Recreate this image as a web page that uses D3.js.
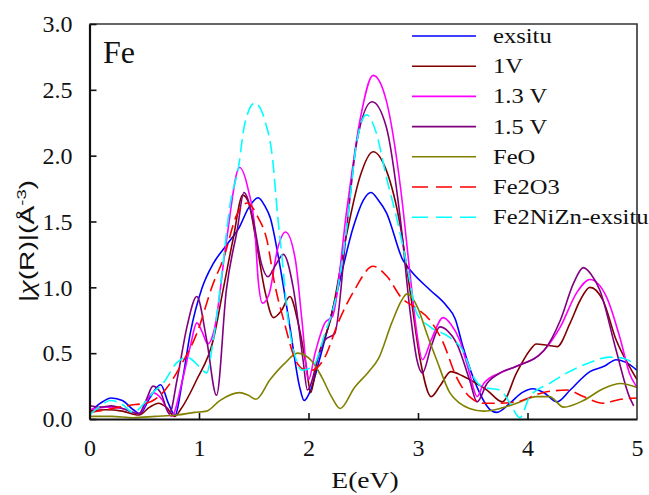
<!DOCTYPE html>
<html>
<head>
<meta charset="utf-8">
<script src="https://cdn.jsdelivr.net/npm/d3@7"></script>
<style>
  body { margin: 0; background: #fff; }
  svg { display: block; font-family: "Liberation Serif", "Times New Roman", serif; }
</style>
</head>
<body>
<svg id="chart" width="649" height="495"></svg>
<script>
// values, pairs of [E (eV), |chi(R)|]
const exsitu = [[0,0.05],[0.1,0.12],[0.2,0.16],[0.3,0.14],[0.4,0.07],[0.46,0.04],[0.55,0.16],[0.65,0.26],[0.72,0.12],[0.78,0.03],[0.85,0.3],[0.92,0.65],[1.03,1.0],[1.13,1.18],[1.25,1.32],[1.37,1.46],[1.45,1.6],[1.54,1.68],[1.6,1.62],[1.65,1.53],[1.74,1.16],[1.83,0.7],[1.92,0.24],[1.96,0.14],[2.02,0.22],[2.1,0.45],[2.26,0.96],[2.41,1.46],[2.5,1.66],[2.57,1.72],[2.64,1.66],[2.71,1.57],[2.86,1.21],[2.95,1.11],[3.11,0.98],[3.26,0.86],[3.34,0.76],[3.41,0.55],[3.54,0.24],[3.66,0.07],[3.72,0.05],[3.84,0.12],[3.95,0.2],[4.05,0.23],[4.15,0.2],[4.27,0.13],[4.39,0.22],[4.57,0.36],[4.7,0.4],[4.81,0.45],[4.9,0.43],[5,0.37]];
const v1 = [[0,0.06],[0.15,0.07],[0.3,0.06],[0.45,0.03],[0.55,0.09],[0.63,0.12],[0.7,0.09],[0.78,0.02],[0.83,0.07],[0.98,0.3],[1.13,0.6],[1.22,0.98],[1.31,1.36],[1.4,1.7],[1.45,1.65],[1.53,1.31],[1.6,0.98],[1.68,0.77],[1.75,0.82],[1.83,0.93],[1.9,0.75],[1.98,0.4],[2.02,0.2],[2.08,0.45],[2.2,0.75],[2.35,1.41],[2.47,1.84],[2.59,2.03],[2.71,1.89],[2.84,1.46],[2.93,0.96],[3.02,0.45],[3.12,0.17],[3.2,0.25],[3.3,0.36],[3.4,0.33],[3.47,0.3],[3.63,0.22],[3.77,0.13],[3.9,0.35],[4.02,0.52],[4.08,0.57],[4.18,0.56],[4.27,0.55],[4.39,0.73],[4.48,0.9],[4.57,1.0],[4.69,0.9],[4.81,0.6],[4.93,0.4],[5,0.3]];
const v13 = [[0,0.07],[0.15,0.09],[0.3,0.08],[0.45,0.04],[0.58,0.2],[0.66,0.15],[0.75,0.02],[0.85,0.3],[0.92,0.55],[0.98,0.73],[1.03,0.66],[1.08,0.57],[1.14,0.68],[1.25,1.35],[1.37,1.91],[1.45,1.74],[1.51,1.44],[1.54,1.06],[1.58,0.88],[1.64,0.95],[1.72,1.3],[1.79,1.42],[1.88,1.21],[1.94,0.75],[2.0,0.3],[2.06,0.5],[2.15,0.73],[2.22,0.78],[2.35,1.59],[2.47,2.27],[2.59,2.61],[2.71,2.42],[2.84,1.76],[2.93,1.08],[2.99,0.65],[3.04,0.45],[3.12,0.6],[3.23,0.77],[3.3,0.72],[3.38,0.6],[3.47,0.35],[3.54,0.17],[3.6,0.27],[3.75,0.35],[3.9,0.4],[4.15,0.52],[4.3,0.7],[4.45,0.96],[4.57,1.06],[4.72,0.93],[4.85,0.6],[4.93,0.35],[5,0.24]];
const v15 = [[0,0.1],[0.1,0.09],[0.2,0.1],[0.3,0.08],[0.45,0.04],[0.52,0.15],[0.58,0.25],[0.65,0.2],[0.73,0.04],[0.8,0.3],[0.89,0.7],[0.98,0.93],[1.07,0.6],[1.16,0.18],[1.25,0.98],[1.35,1.44],[1.41,1.72],[1.5,1.49],[1.57,1.18],[1.63,1.08],[1.7,1.17],[1.77,1.25],[1.86,1.0],[1.95,0.45],[1.99,0.22],[2.1,0.5],[2.15,0.6],[2.24,0.65],[2.35,1.46],[2.44,2.1],[2.58,2.41],[2.71,2.22],[2.84,1.51],[2.93,0.8],[2.99,0.45],[3.04,0.35],[3.12,0.55],[3.2,0.7],[3.27,0.67],[3.35,0.58],[3.47,0.3],[3.54,0.13],[3.63,0.27],[3.75,0.35],[3.9,0.4],[4.15,0.52],[4.3,0.75],[4.42,1.03],[4.51,1.15],[4.58,1.1],[4.66,0.98],[4.81,0.52],[4.93,0.17],[4.97,0.1]];
const feo = [[0,0.02],[0.2,0.02],[0.4,0.01],[0.6,0.02],[0.8,0.03],[0.96,0.05],[1.07,0.06],[1.19,0.14],[1.37,0.2],[1.45,0.18],[1.52,0.15],[1.65,0.3],[1.78,0.42],[1.9,0.5],[2.03,0.44],[2.12,0.32],[2.21,0.17],[2.29,0.08],[2.42,0.24],[2.54,0.35],[2.64,0.46],[2.76,0.73],[2.85,0.9],[2.9,0.95],[3.0,0.84],[3.08,0.65],[3.17,0.45],[3.29,0.2],[3.38,0.12],[3.47,0.08],[3.6,0.06],[3.75,0.08],[3.9,0.12],[4.08,0.17],[4.2,0.17],[4.33,0.09],[4.51,0.14],[4.69,0.23],[4.85,0.27],[5,0.24]];
const fe2o3 = [[0,0.05],[0.15,0.07],[0.27,0.09],[0.42,0.11],[0.52,0.12],[0.6,0.15],[0.67,0.2],[0.83,0.4],[0.98,0.65],[1.13,1.03],[1.22,1.21],[1.35,1.56],[1.44,1.64],[1.54,1.53],[1.62,1.36],[1.69,1.03],[1.78,0.73],[1.88,0.45],[1.95,0.38],[2.03,0.37],[2.15,0.47],[2.27,0.73],[2.42,0.98],[2.59,1.16],[2.72,1.08],[2.85,0.92],[2.97,0.85],[3.11,0.75],[3.23,0.58],[3.35,0.32],[3.47,0.17],[3.6,0.12],[3.75,0.12],[3.9,0.13],[4.14,0.2],[4.36,0.22],[4.51,0.17],[4.69,0.12],[4.85,0.15],[5,0.16]];
const fe2nizn = [[0,0.03],[0.1,0.1],[0.19,0.14],[0.3,0.11],[0.4,0.05],[0.5,0.12],[0.58,0.2],[0.67,0.27],[0.8,0.43],[0.89,0.47],[1.0,0.4],[1.07,0.35],[1.13,0.6],[1.22,1.18],[1.28,1.61],[1.36,1.91],[1.42,2.25],[1.51,2.4],[1.6,2.27],[1.67,1.99],[1.72,1.53],[1.76,1.21],[1.81,0.78],[1.88,0.47],[1.94,0.37],[2.04,0.4],[2.15,0.65],[2.26,0.96],[2.35,1.46],[2.44,2.1],[2.53,2.31],[2.62,2.17],[2.71,1.84],[2.81,1.51],[2.9,1.16],[2.99,0.8],[3.11,0.7],[3.29,0.62],[3.41,0.52],[3.5,0.33],[3.6,0.24],[3.75,0.22],[3.84,0.12],[3.93,0.01],[4.02,0.17],[4.2,0.27],[4.36,0.35],[4.57,0.43],[4.75,0.47],[4.88,0.46],[5,0.4]];

const seriesNames = ["exsitu", "1V", "1.3 V", "1.5 V", "FeO", "Fe2O3", "Fe2NiZn-exsitu"];
const seriesData = [exsitu, v1, v13, v15, feo, fe2o3, fe2nizn];
const seriesColors = ["#0000ff", "#800000", "#ff00ff", "#800080", "#808000", "#ff0000", "#00ffff"];
const seriesDashed = [false, false, false, false, false, true, true];
const xTicks = [0, 1, 2, 3, 4, 5];
const yTicks = [0, 0.5, 1.0, 1.5, 2.0, 2.5, 3.0];

const svg = d3.select("#chart");
const x = d3.scaleLinear().domain([0, 5]).range([89.5, 637]);
const y = d3.scaleLinear().domain([0, 3]).range([419, 24]);

svg.append("defs").append("clipPath").attr("id", "plotclip")
  .append("rect")
  .attr("x", x(0)).attr("y", y(3))
  .attr("width", x(5) - x(0)).attr("height", y(0) - y(3));

const line = d3.line()
  .curve(d3.curveMonotoneX)
  .x(d => x(d[0]))
  .y(d => y(d[1]));

const curves = svg.append("g").attr("clip-path", "url(#plotclip)");
seriesData.forEach((data, i) => {
  curves.append("path")
    .attr("d", line(data))
    .attr("fill", "none")
    .attr("stroke", seriesColors[i])
    .attr("stroke-width", 1.6)
    .attr("stroke-dasharray", seriesDashed[i] ? "13,6" : null);
});

// frame: top + right thin, left + bottom are the axes
svg.append("path")
  .attr("d", `M${x(0)},${y(3)}H${x(5)}V${y(0)}`)
  .attr("fill", "none")
  .attr("stroke", "#333")
  .attr("stroke-width", 1.6);

const yAxis = svg.append("g")
  .attr("transform", `translate(${x(0)},0)`)
  .call(d3.axisLeft(y).tickValues(yTicks).tickFormat(d3.format(".1f"))
    .tickSizeInner(-7).tickSizeOuter(0).tickPadding(17));
const xAxis = svg.append("g")
  .attr("transform", `translate(0,${y(0)})`)
  .call(d3.axisBottom(x).tickValues(xTicks).tickFormat(d3.format("d"))
    .tickSizeInner(-6).tickSizeOuter(0).tickPadding(20));

[yAxis, xAxis].forEach(ax => {
  ax.select(".domain").attr("stroke", "#111").attr("stroke-width", 2.2);
  ax.selectAll(".tick line").attr("stroke", "#111").attr("stroke-width", 1.6);
  ax.selectAll(".tick text")
    .attr("fill", "#111")
    .style("font-family", "'Liberation Serif', serif")
    .style("font-size", "24px");
});
xAxis.selectAll(".tick")
  .filter(d => d === 0 || d === 5)
  .select("line").remove();

// axis titles
svg.append("text")
  .attr("x", 365).attr("y", 488)
  .attr("text-anchor", "middle")
  .attr("transform", "translate(365,0) scale(1.15,1) translate(-365,0)")
  .style("font-size", "24px")
  .attr("fill", "#111")
  .text("E(eV)");

const yTitle = svg.append("text")
  .attr("transform", "translate(34,241) rotate(-90)")
  .attr("text-anchor", "middle")
  .attr("textLength", 122)
  .attr("lengthAdjust", "spacingAndGlyphs")
  .style("font-family", "'Liberation Sans', Arial, sans-serif")
  .style("font-size", "20px")
  .attr("fill", "#111");
yTitle.append("tspan").text("|");
yTitle.append("tspan").style("font-family", "'Liberation Serif', serif").style("font-style", "italic").style("font-size", "23px").text("χ");
yTitle.append("tspan").text("(R)|(Å");
yTitle.append("tspan").attr("dy", -8).style("font-size", "13px").text("-3");
yTitle.append("tspan").attr("dy", 8).text(")");

svg.append("text")
  .attr("x", 103).attr("y", 63)
  .style("font-size", "32px")
  .attr("fill", "#111")
  .text("Fe");

// legend, inside the plot, no box
const legend = svg.append("g");
seriesNames.forEach((name, i) => {
  const ly = 36 + i * 30.2;
  legend.append("line")
    .attr("x1", 412).attr("x2", 476)
    .attr("y1", ly).attr("y2", ly)
    .attr("stroke", seriesColors[i])
    .attr("stroke-width", 1.6)
    .attr("stroke-dasharray", seriesDashed[i] ? "16,8" : null);
  legend.append("text")
    .attr("transform", `translate(493,${ly + 7}) scale(1.17,1)`)
    .style("font-size", "21px")
    .attr("fill", "#111")
    .text(name);
});
</script>
</body>
</html>
